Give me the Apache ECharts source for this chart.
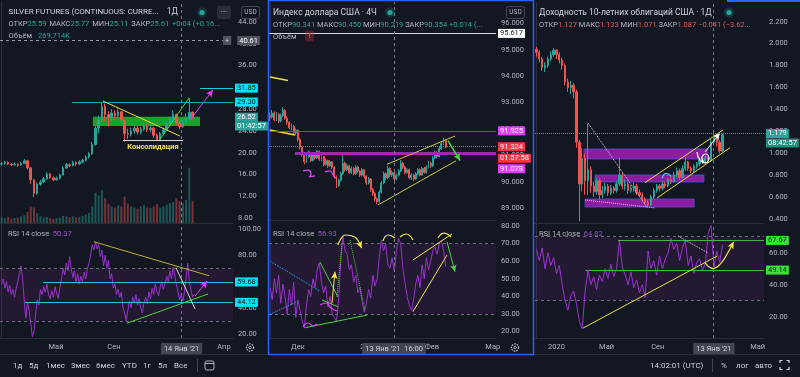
<!DOCTYPE html>
<html><head><meta charset="utf-8">
<script src="https://cdn.jsdelivr.net/npm/echarts@6/dist/echarts.min.js"></script>
<style>html,body{margin:0;padding:0;background:#131722;}#c{width:800px;height:377px;}</style>
</head><body><div id="c"></div>
<script>
const FONT = 'Roboto, "Noto Sans", sans-serif';
const BG = '#131722';
const UP = '#26a69a', DOWN = '#ef5350';
const AXIS_TXT = '#b2b5be';
const RSI_COLOR = '#9933cc';

// ---------- Panel 1: Silver futures (slots ~ weekly) ----------
const silverSlots = 72;
const silverCandles = [ // [open, close, low, high]
[17.9,18.0,17.6,18.3],[18.0,18.2,17.8,18.5],[18.2,17.9,17.7,18.4],[17.9,17.8,17.5,18.1],[17.8,17.9,17.6,18.2],
[17.9,17.7,17.4,18.0],[17.7,18.0,17.6,18.3],[18.0,18.5,17.9,18.8],[18.5,17.2,16.9,18.7],[17.2,15.0,14.3,17.4],
[15.0,12.5,11.8,15.2],[12.5,14.2,12.3,14.5],[14.2,14.6,13.9,15.0],[14.6,15.2,14.4,15.5],[15.2,16.1,15.0,16.4],
[16.1,15.4,15.2,16.3],[15.4,15.0,14.8,15.6],[15.0,15.3,14.9,15.6],[15.3,15.9,15.1,16.1],[15.9,17.2,15.8,17.5],
[17.2,17.8,17.0,18.1],[17.8,17.6,17.3,18.0],[17.6,18.2,17.5,18.5],[18.2,17.9,17.6,18.4],[17.9,18.3,17.7,18.6],
[18.3,18.6,18.0,18.9],[18.6,19.2,18.4,19.5],[19.2,19.8,18.9,20.1],[19.8,21.5,19.6,22.0],[21.5,24.5,21.3,25.0],
[24.5,26.0,23.5,26.8],[26.0,28.5,25.6,29.3],[28.5,27.0,25.8,29.0],[27.0,26.5,24.8,27.6],[26.5,27.3,25.9,28.0],
[27.3,26.8,26.0,27.8],[26.8,27.5,26.3,28.1],[27.5,26.0,25.5,27.7],[26.0,23.5,22.0,26.2],[23.5,23.4,22.5,24.4],
[23.4,24.0,23.0,24.6],[24.0,24.5,23.5,25.0],[24.5,23.8,23.3,24.9],[23.8,24.3,23.4,24.7],[24.3,25.0,24.0,25.4],
[25.0,24.2,23.8,25.3],[24.2,24.5,23.7,25.1],[24.5,23.2,22.7,24.7],[23.2,22.4,22.1,23.5],[22.4,23.5,22.2,23.8],
[23.5,24.2,23.2,24.6],[24.2,25.3,24.0,25.6],[25.3,26.3,24.8,26.6],[26.3,27.0,25.9,27.8],[27.0,25.4,25.1,27.2],
[25.4,24.8,24.3,25.8],[24.8,25.6,24.6,26.1],[25.6,26.3,25.3,27.2],[26.3,27.4,25.9,30.0],[27.4,26.52,26.2,27.6]
];
const silverVolume = [10,9,11,8,9,10,12,14,20,30, 28,18,12,10,11,9,8,9,10,13, 12,11,12,10,11,13,15,18,30,55,
  50,60,45,35,30,28,32,30,48,35, 30,28,26,30,32,28,27,30,34,28, 30,33,36,38,45,40,36,42,100,40];
const silverRsi = [ // two points per slot
58,62,55,60,52,57,50,54,48,55, 60,66,72,62,45,32,44,38,28,18, 22,35,46,42,54,50,56,52,58,50,
47,53,48,56,51,47,55,62,70,65, 74,68,79,70,63,68,60,66,58,64, 60,67,62,70,74,80,88,84,90,85,
88,79,84,72,80,70,76,62,66,55, 58,50,54,48,52,40,36,30,38,45, 40,48,44,50,42,47,40,36,44,48,
43,52,47,55,50,58,52,49,56,60, 54,58,64,60,68,62,71,65,58,52, 46,50,45,52,62,74,60,54,48,50.37];
const silverPriceTicks = [8,12,16,20,24,28,32,36,40,44];
const silverRsiTicks = [20,40,60,80,100];
const silverTimeLabels = [[16.8,'Май'],[34.7,'Сен'],[55.6,"14 Янв '21"],[68.7,'Апр']];
const silverCrossSlot = 55.4;

// ---------- Panel 2: US dollar index ----------
const dxySlots = 106;
const dxyCandles = [
[92.50,92.45,92.30,92.62],[92.45,92.60,92.38,92.72],[92.60,92.35,92.28,92.66],[92.35,92.55,92.30,92.64],[92.55,92.30,92.22,92.60],
[92.30,92.50,92.25,92.58],[92.50,92.70,92.45,92.82],[92.70,92.40,92.35,92.75],[92.40,92.25,92.15,92.48],[92.25,92.05,91.98,92.30],
[92.05,92.10,91.95,92.20],[92.10,91.85,91.78,92.15],[91.85,91.95,91.76,92.02],[91.95,91.60,91.52,91.98],[91.60,91.30,91.22,91.66],
[91.30,91.05,90.96,91.35],[91.05,90.75,90.66,91.10],[90.75,90.95,90.70,91.02],[90.95,91.10,90.88,91.18],[91.10,90.80,90.74,91.14],
[90.80,91.05,90.76,91.12],[91.05,90.90,90.84,91.10],[90.90,91.15,90.86,91.20],[91.15,90.85,90.78,91.18],[90.85,90.95,90.78,91.02],
[90.95,90.65,90.58,90.98],[90.65,90.80,90.60,90.88],[90.80,90.60,90.52,90.84],[90.60,90.75,90.55,90.82],[90.75,90.55,90.46,90.78],
[90.55,90.20,90.12,90.58],[90.20,89.85,89.76,90.24],[89.85,90.05,89.80,90.12],[90.05,90.30,90.00,90.38],[90.30,90.70,90.26,91.00],
[90.70,90.45,90.38,90.76],[90.45,90.60,90.40,90.68],[90.60,90.35,90.30,90.64],[90.35,90.50,90.30,90.58],[90.50,90.30,90.24,90.55],
[90.30,90.55,90.26,90.62],[90.55,90.40,90.34,90.60],[90.40,90.25,90.18,90.45],[90.25,90.45,90.20,90.52],[90.45,90.20,90.12,90.48],
[90.20,89.95,89.88,90.25],[89.95,90.10,89.90,90.18],[90.10,89.70,89.62,90.14],[89.70,89.55,89.46,89.76],[89.55,89.35,89.26,89.60],
[89.35,89.25,89.15,89.40],[89.25,89.60,89.20,89.66],[89.60,89.95,89.55,90.02],[89.95,90.30,89.90,90.38],[90.30,90.15,90.06,90.36],
[90.15,90.50,90.10,90.60],[90.50,90.25,90.18,90.55],[90.25,90.35,90.18,90.42],[90.35,90.10,90.02,90.40],[90.10,90.25,90.05,90.32],
[90.25,90.40,90.20,90.48],[90.40,90.70,90.36,90.82],[90.70,90.55,90.48,90.76],[90.55,90.35,90.28,90.60],[90.35,90.45,90.30,90.52],
[90.45,90.15,90.08,90.50],[90.15,90.25,90.06,90.32],[90.25,90.10,90.02,90.30],[90.10,90.30,90.06,90.36],[90.30,90.45,90.24,90.52],
[90.45,90.25,90.20,90.50],[90.25,90.50,90.22,90.56],[90.50,90.35,90.30,90.56],[90.35,90.55,90.30,90.62],[90.55,90.70,90.50,90.78],
[90.70,90.60,90.52,90.76],[90.60,90.90,90.56,90.96],[90.90,91.10,90.85,91.18],[91.10,90.95,90.88,91.16],[90.95,91.25,90.92,91.32],
[91.25,91.45,91.20,91.52],[91.45,91.55,91.38,91.66],[91.55,91.32,91.26,91.60]
];
const dxyRsi = [
45,38,50,42,52,36,47,40,30,44, 35,48,28,38,32,26,22,35,44,40, 50,45,55,59,48,42,46,34,40,30,
28,26,38,60,74,66,64,55,58,48, 52,42,45,37,31,36,44,39,52,46, 50,62,72,66,70,58,56,62,54,66,
73,70,56,48,40,35,32,38,47,52, 45,58,50,62,55,60,66,68,64,70, 72,66,57];
const dxyPriceTicks = [89,90,91,92,93,94,95,96];
const dxyRsiTicks = [20,30,40,50,60,70,80];
const dxyTimeLabels = [[13,'Дек'],[46,'2021'],[57.9,"13 Янв '21  16:00"],[75.6,'Фев'],[104,'Мар']];
const dxyCrossSlot = 57.9;

// ---------- Panel 3: US 10Y yield ----------
const yieldSlots = 80;
const yieldCandles = [
[1.95,1.92,1.88,1.97],[1.92,1.86,1.83,1.94],[1.86,1.78,1.75,1.88],[1.78,1.80,1.74,1.83],[1.80,1.86,1.78,1.88],
[1.86,1.90,1.84,1.93],[1.90,1.94,1.88,1.96],[1.94,1.90,1.86,1.95],[1.90,1.85,1.82,1.92],[1.85,1.80,1.76,1.87],
[1.80,1.65,1.62,1.82],[1.65,1.60,1.56,1.68],[1.60,1.62,1.54,1.66],[1.62,1.56,1.50,1.64],[1.56,1.10,1.05,1.58],
[1.10,0.72,0.38,1.12],[0.72,0.95,0.65,1.05],[0.95,0.75,0.62,1.00],[0.75,0.85,0.62,1.27],[0.85,0.70,0.64,0.88],
[0.70,0.65,0.60,0.74],[0.65,0.75,0.62,0.78],[0.75,0.62,0.58,0.77],[0.62,0.66,0.59,0.70],[0.66,0.70,0.63,0.73],
[0.70,0.64,0.61,0.72],[0.64,0.68,0.62,0.71],[0.68,0.66,0.63,0.70],[0.66,0.72,0.64,0.75],[0.72,0.80,0.70,0.96],
[0.80,0.70,0.67,0.82],[0.70,0.72,0.66,0.76],[0.72,0.66,0.63,0.74],[0.66,0.68,0.64,0.71],[0.68,0.70,0.65,0.73],
[0.70,0.64,0.62,0.72],[0.64,0.62,0.60,0.67],[0.62,0.58,0.56,0.64],[0.58,0.55,0.53,0.60],[0.55,0.53,0.51,0.57],
[0.53,0.60,0.52,0.62],[0.60,0.66,0.58,0.68],[0.66,0.70,0.64,0.72],[0.70,0.68,0.65,0.72],[0.68,0.72,0.66,0.75],
[0.72,0.70,0.68,0.74],[0.70,0.76,0.69,0.78],[0.76,0.74,0.72,0.79],[0.74,0.80,0.73,0.83],[0.80,0.84,0.78,0.87],
[0.84,0.78,0.76,0.86],[0.78,0.86,0.77,0.89],[0.86,0.92,0.84,0.96],[0.92,0.86,0.84,0.93],[0.86,0.84,0.82,0.88],
[0.84,0.88,0.82,0.90],[0.88,0.90,0.86,0.92],[0.90,0.94,0.88,0.96],[0.94,0.92,0.90,0.96],[0.92,0.96,0.90,0.98],
[0.96,0.93,0.91,0.98],[0.93,1.10,0.92,1.13],[1.10,1.15,1.07,1.19],[1.15,1.10,1.06,1.17],[1.10,1.02,1.00,1.12],
[1.02,1.17,1.01,1.18]
];
const yieldRsi = [
62,55,63,50,60,52,57,47,52,40, 30,24,33,36,28,17,12.5,36,49,40, 45,37,46,42,50,44,53,45,50,68,
51,46,40,48,38,43,35,40,32,61, 50,55,46,58,50,56,60,69,62,66, 55,63,68,52,58,47,54,56,49,53,
72,77,51,61,54,64.82];
const yieldPriceTicks = [0.4,0.6,0.8,1.0,1.2,1.4,1.6,1.8,2.0,2.2];
const yieldRsiTicks = [20,40,60];
const yieldTimeLabels = [[7,'2020'],[24.5,'Май'],[42.4,'Сен'],[62,"13 Янв '21"],[77.3,'Май']];
const yieldCrossSlot = 61.6;

// ---------- helpers ----------
function tag(text, bg, fg, extra) {
  return Object.assign({show:true, position:'end', formatter:text, backgroundColor:bg, color:fg,
    padding:[1,2,0,2], fontSize:7.5, lineHeight:8, fontFamily:FONT, distance:2}, extra || {});
}
function seg(p, color, o) {
  o = o || {};
  return [
    {coord:[p[0],p[1]], symbol:'none', lineStyle:{color:color, width:o.w || 1, type:o.type || 'solid'}, label:o.label || {show:false}},
    {coord:[p[2],p[3]], symbol:o.arrow ? 'arrow' : 'none', symbolSize:o.arrow ? [5,7] : 1}
  ];
}
function hseg(v, x1, x2, color, o) { return seg([x1,v,x2,v], color, o); }
function vline(x) { return {xAxis:x, lineStyle:{color:'#787b86', type:[3,3], width:1}}; }
function mline(data) {
  return {silent:true, animation:false, symbol:['none','none'], label:{show:false}, data:data};
}
function curve(xi, yi, pts, color, w) {
  return {type:'line', xAxisIndex:xi, yAxisIndex:yi, data:pts, smooth:0.5, showSymbol:false, silent:true,
    lineStyle:{color:color, width:w || 1.2}, z:6, animation:false};
}
function band(xi, yi, slots) {
  return {type:'line', xAxisIndex:xi, yAxisIndex:yi, data:[], z:1, silent:true,
    markArea:{silent:true, animation:false, data:[[{coord:[-0.5,70], itemStyle:{color:'rgba(156,39,176,0.12)'}},{coord:[slots-0.5,30]}]]},
    markLine:mline([hseg(70,-0.5,slots-0.5,'#6a6d78',{type:[3,3]}), hseg(30,-0.5,slots-0.5,'#6a6d78',{type:[3,3]})])};
}
function overlay(xi, yi, lines, areas, points) {
  const s = {type:'line', xAxisIndex:xi, yAxisIndex:yi, data:[], z:5, silent:true, clip:false, markLine:mline(lines)};
  if (areas) s.markArea = {silent:true, animation:false, data:areas};
  if (points) s.markPoint = {silent:true, animation:false, data:points};
  return s;
}
function rect(x1, y1, x2, y2, style) { return [{coord:[x1,y1], itemStyle:style}, {coord:[x2,y2]}]; }
function candles(xi, yi, arr, w) {
  return {type:'candlestick', xAxisIndex:xi, yAxisIndex:yi, barWidth:w, z:2, animation:false, silent:true,
    encode:{x:0, y:[1,2,3,4]},
    data:arr.map((c,i)=>[i,c[0],c[1],c[2],c[3]]),
    itemStyle:{color:UP, color0:DOWN, borderColor:UP, borderColor0:DOWN, borderWidth:1}};
}
function rsiLine(xi, yi, arr, step) {
  return {type:'line', xAxisIndex:xi, yAxisIndex:yi, data:arr.map((v,i)=>[i*step, v]), showSymbol:false,
    lineStyle:{color:RSI_COLOR, width:1}, z:3, animation:false, silent:true};
}
function xPrice(gi, slots) {
  return {type:'value', gridIndex:gi, min:-0.5, max:slots-0.5,
    axisLine:{show:true, onZero:false, lineStyle:{color:'#2a2e39'}}, axisTick:{show:false}, axisLabel:{show:false}, splitLine:{show:false}};
}
function xTime(gi, slots, labels) {
  return {type:'value', gridIndex:gi, min:-0.5, max:slots-0.5,
    axisLine:{show:true, onZero:false, lineStyle:{color:'#2a2e39'}}, axisTick:{show:false}, splitLine:{show:false},
    axisLabel:{show:true, customValues:labels.map(l=>l[0]), margin:5, color:AXIS_TXT, fontSize:7.5, fontFamily:FONT,
      formatter:function(v){ const l = labels.find(x=>Math.abs(x[0]-v)<1e-6); if(!l) return ''; return l[1].indexOf("'21")>=0 ? '{hl|'+l[1]+'}' : l[1]; },
      rich:{hl:{backgroundColor:'#434651', color:'#d1d4dc', padding:[2,3,2,3], fontSize:7.5, fontFamily:FONT}}}};
}
function yAx(gi, min, max, ticks, dec, show) {
  return {type:'value', gridIndex:gi, position:'right', min:min, max:max, show:show !== false,
    axisLine:{show:true, lineStyle:{color:'#2a2e39'}}, axisTick:{show:false}, splitLine:{show:false},
    axisLabel:{show:true, customValues:ticks, formatter:v=>v.toFixed(dec), color:AXIS_TXT, fontSize:7.5, fontFamily:FONT, margin:5}};
}

// ---------- text styles ----------
const RICH = {
  t:{color:'#d1d4dc', fontSize:8, fontFamily:FONT, lineHeight:11.5},
  k:{color:'#d1d4dc', fontSize:8.5, fontFamily:FONT, lineHeight:11.5, padding:[0,0,0,8]},
  l:{color:'#b2b5be', fontSize:7.5, fontFamily:FONT, lineHeight:11.5},
  u:{color:UP, fontSize:7.5, fontFamily:FONT, lineHeight:11.5},
  d:{color:DOWN, fontSize:7.5, fontFamily:FONT, lineHeight:11.5},
  r:{color:'#9c4fc9', fontSize:7.5, fontFamily:FONT, lineHeight:11.5},
  y:{color:'#f5e642', fontSize:7.5, fontFamily:FONT, fontWeight:'bold', lineHeight:10}
};

// ---------- annotations (data coordinates) ----------
const CY = '#26c6da', CYBOX = '#00e5ff', YEL = '#e8e337', GRN = '#4cd43c', MAG = '#e040fb', WHT = '#d8d8d8';
const silverHeader = '{t|SILVER FUTURES (CONTINUOUS: CURRE...}{k|1Д}\n' +
  '{l|ОТКР}{u|25.59} {l|МАКС}{u|25.77} {l|МИН}{u|25.11} {l|ЗАКР}{u|25.61} {u|+0.04 (+0.16...}\n' +
  '{l|Объём}  {u|269.714K}';
const silverHeaderPoint = [{coord:[-0.5, 43.63], symbol:'rect', symbolSize:1, itemStyle:{color:'rgba(0,0,0,0)'},
  label:{show:true, position:'right', distance:8, formatter:silverHeader, rich:RICH, fontFamily:FONT, color:'#d1d4dc'}}];
const silverPriceLines = [
  hseg(40.61,-0.5,71.5,'#9598a1',{type:[3,3], label:{show:true, position:'end', distance:2, offset:[-12,0], formatter:'{p|+}  {v|40.61}',
    rich:{p:{backgroundColor:'#50535e', color:'#d1d4dc', padding:[1,2,0,2], fontSize:7.5, fontFamily:FONT},
          v:{backgroundColor:'#50535e', color:'#ffffff', padding:[1,2,0,2], fontSize:7.5, fontFamily:FONT}}}}),
  hseg(31.85,61.3,71.5,CY,{label:tag('31.85',CYBOX,'#0b0e14')}),
  hseg(29.30,21.7,71.5,'#1e9fb0',{label:tag('29.30',CYBOX,'#0b0e14')}),
  seg([31.3,29.49,55.1,23.06],YEL),
  seg([48.6,22.14,57.9,30.04],GRN),
  hseg(22.33,37.5,56.05,WHT,{label:{show:true, position:'insideMiddleBottom', distance:2, formatter:'{y|Консолидация}', rich:RICH}}),
  seg([58.2,26.0,65.3,31.51],MAG,{arrow:true}),
  hseg(26.52,-0.5,71.5,'rgba(0,0,0,0)',{label:tag('26.52',UP,'#ffffff')}),
  hseg(24.90,-0.5,71.5,'rgba(0,0,0,0)',{label:tag('01:42:57',UP,'#ffffff')}),
  vline(silverCrossSlot)
];
const silverPriceAreas = [rect(28.2,26.6,61.3,24.9,{color:'#1ec72e', opacity:0.78})];
const silverRsiLines = [
  hseg(59.68,12.8,71.5,CY,{label:tag('59.68',CYBOX,'#0b0e14')}),
  hseg(44.12,7.2,71.5,CY,{label:tag('44.12',CYBOX,'#0b0e14')}),
  seg([28.5,90.3,64.1,64.4],'#bfae30'),
  seg([38.7,28.2,63.8,50.5],GRN),
  seg([53.9,70.5,59.8,39.0],WHT),
  seg([59.8,49,63.5,60.4],MAG,{arrow:true}),
  vline(silverCrossSlot)
];

const dxyPriceLines = [
  hseg(95.617,-0.5,105.5,'#d1d4dc',{label:tag('95.617','#ffffff','#131722')}),
  seg([-0.03,93.97,8.37,93.83],YEL,{w:1.5}),
  seg([-0.03,91.96,11.64,91.77],YEL,{w:1.5}),
  hseg(91.925,-0.5,105.5,'#d500f9',{label:tag('91.925',MAG,'#ffffff')}),
  hseg(91.324,-0.5,105.5,'#ef5350',{type:'dotted', label:tag('91.324','#f23645','#ffffff')}),
  hseg(90.89,-0.5,105.5,'rgba(0,0,0,0)',{label:tag('01:57:58','#f23645','#ffffff')}),
  hseg(91.078,11.6,105.5,'#9c27b0',{w:3}),
  hseg(90.49,-0.5,105.5,'rgba(0,0,0,0)',{label:tag('91.078',MAG,'#ffffff')}),
  seg([54.6,90.66,86.35,91.73],'#c9c63a'),
  seg([50.4,89.12,86.8,90.79],'#c9c63a'),
  seg([83.1,91.55,88.7,90.80],GRN,{w:1.5, arrow:true}),
  vline(dxyCrossSlot)
];
const dxySquiggle1 = [[15.38,90.41],[17.71,90.44],[19.1,90.29],[18.18,90.18],[20.98,90.22]];
const dxySquiggle2 = [[25.65,90.37],[27.98,90.41],[29.39,90.26],[30.79,90.14]];
const dxyRsiLines = [
  seg([-0.03,60,23.3,43],'#29b6f6',{type:'dotted'}),
  seg([-0.03,29.8,12.6,37],'#29b6f6',{type:'dotted'}),
  seg([16.3,22.2,45.3,29.4],GRN),
  seg([23.3,59.5,31.7,39.7],GRN),
  seg([24.25,38.0,31.7,34.1],GRN),
  seg([28.9,36.1,30.3,54.0],'#f5e642',{arrow:true}),
  seg([31.25,39.8,33.6,70.2],GRN,{type:'dotted'}),
  seg([37.3,72.0,44.3,32.3],GRN,{type:'dotted'}),
  seg([41.9,69.8,42.7,67.4],'#f5e642',{arrow:true}),
  seg([66.7,60.7,85.0,75.5],'#f5e642'),
  seg([66.7,31.3,82.6,63.5],'#f5e642'),
  seg([82.6,71.1,86.35,54.0],GRN,{arrow:true}),
  vline(dxyCrossSlot)
];
const dxyRsiArc = [[31.7,69.2],[35.4,74.9],[39.3,73.9],[42.4,68.2]];
const dxyRsiArcA = [[52.7,71.5],[55.1,74.9],[58.3,73.2]];
const dxyRsiArcB = [[60.7,73.75],[63.5,75.45],[66.7,72.05]];
const dxyRsiArcC = [[78.4,73.2],[81.2,76.0],[84.5,73.75]];
const dxyRsiSquig1 = [[23.3,35.1],[26.1,36.25],[28.4,33.4],[31.25,31.7]];
const dxyRsiSquig2 = [[15.4,22.6],[17.7,24.9],[20.0,23.2],[21.9,24.3]];

const RECT3 = {color:'#a31fb5', opacity:0.85, borderColor:'#4b4bd6', borderWidth:1};
const yieldPriceAreas = [rect(16.6,1.0385,59.9,0.9473,RECT3), rect(20.5,0.8013,58.5,0.7374,RECT3), rect(17.0,0.582,55.1,0.509,RECT3)];
const yieldPriceLines = [
  seg([18.0,1.276,38.6,0.5075],'#d1d4dc',{type:'dotted'}),
  seg([17.0,0.573,41.4,0.501],'#d1d4dc',{type:'dotted'}),
  seg([37.9,0.731,65.2,1.212],'#e6e12f'),
  seg([42.1,0.591,67.6,1.050],'#e6e12f'),
  seg([58.9,1.011,64.1,1.185],'#ffffff',{arrow:true}),
  hseg(1.179,-0.5,79.5,UP,{type:'dotted', label:tag('1.179',UP,'#ffffff')}),
  hseg(1.0933,-0.5,79.5,'rgba(0,0,0,0)',{label:tag('08:42:57','#1f8f80','#ffffff')}),
  vline(yieldCrossSlot)
];
const yieldSquiggle = [[56.1,1.011],[57.1,0.938],[58.9,0.911],[60.3,0.956],[59.2,0.993],[57.8,0.956],[58.5,0.911]];
const yieldCyanArc = [[43.9,0.771],[45.3,0.816],[47.0,0.789]];
const yieldRsiLines = [
  hseg(67.67,28.5,79.5,'#4caf50',{label:tag('67.67','#36e336','#131722')}),
  hseg(49.14,17.0,79.5,'#4caf50',{label:tag('49.14','#36e336','#131722')}),
  seg([16.3,12.9,63.1,57.9],'#e6e12f'),
  seg([49.5,70.4,60.0,59.8],'#d1d4dc',{type:'dotted'}),
  seg([68.2,64.4,68.9,66.8],'#f5e642',{arrow:true}),
  vline(yieldCrossSlot)
];
const yieldRsiCurve = [[58.9,53.75],[60.3,51.1],[61.7,50.1],[64.2,52.9],[66.6,59.2],[68.7,66.1]];

// ---------- other header / toolbar texts (title components) ----------
function ttl(x, cy, text, size, color, extra) {
  const s = size || 8;
  return Object.assign({text:text, left:x, top:cy - s*0.62, padding:0, itemGap:0, z:10,
    textStyle:{color:color || '#d1d4dc', fontSize:s, fontFamily:FONT, fontWeight:'normal', lineHeight:Math.round(s*1.25), rich:RICH}}, extra || {});
}
const titles = [
  ttl(8,233.5,'{l|RSI 14 close}  {r|50.37}',7.5),
  ttl(273,12.5,'Индекс доллара США · 4Ч',8.5),
  ttl(273,24,'{l|ОТКР}{u|90.341} {l|МАКС}{u|90.450} {l|МИН}{u|90.219} {l|ЗАКР}{u|90.354} {u|+0.014 (...}',7.5),
  ttl(273,36,'{l|Объём}',7.5),
  ttl(273,233.5,'{l|RSI 14 close}  {r|56.93}',7.5),
  ttl(539,12.5,'Доходность 10-летних облигаций США · 1Д',8.5),
  ttl(539,24,'{l|ОТКР}{d|1.127} {l|МАКС}{d|1.133} {l|МИН}{d|1.071} {l|ЗАКР}{d|1.087} {d|−0.041 (−3.62...}',7.5),
  ttl(539,233.5,'{l|RSI 14 close}  {r|64.82}',7.5),
  ttl(13,365.5,'1д',8), ttl(29,365.5,'5д',8), ttl(46,365.5,'1мес',8), ttl(71,365.5,'3мес',8), ttl(96,365.5,'6мес',8),
  ttl(122,365.5,'YTD',8), ttl(143,365.5,'1г',8), ttl(158,365.5,'5л',8), ttl(174,365.5,'Все',8),
  ttl(650,365.5,'14:02:01 (UTC)',8), ttl(721,365.5,'%',8), ttl(736,365.5,'лог',8), ttl(755,365.5,'авто',8)
];

// ---------- chrome shapes ----------
let gid = 0;
function nid() { gid += 1; return 'g' + gid; }
function dot(x, y) {
  return [{type:'circle', id:nid(), z:100, silent:true, shape:{cx:x, cy:y, r:5}, style:{fill:'rgba(38,166,154,0.22)'}},
          {type:'circle', id:nid(), z:101, silent:true, shape:{cx:x, cy:y, r:2.6}, style:{fill:'#26a69a'}}];
}
function box(x, y, w, h, stroke, fill) {
  return {type:'rect', id:nid(), z:100, silent:true, shape:{x:x, y:y, width:w, height:h, r:2}, style:{fill:fill || 'none', stroke:stroke || 'none', lineWidth:1}};
}
function gear(x, y) {
  return [{type:'circle', id:nid(), z:100, silent:true, shape:{cx:x, cy:y, r:3.6}, style:{fill:'none', stroke:'#b2b5be', lineWidth:1.2, lineDash:[1.6,1]}},
          {type:'circle', id:nid(), z:100, silent:true, shape:{cx:x, cy:y, r:1.3}, style:{fill:'none', stroke:'#b2b5be', lineWidth:1}}];
}
function lineG(x1, y1, x2, y2, color, w) {
  return {type:'line', id:nid(), z:99, silent:true, shape:{x1:x1, y1:y1, x2:x2, y2:y2}, style:{stroke:color, lineWidth:w || 1}};
}
function poly(points, color) {
  return {type:'polyline', id:nid(), z:100, silent:true, shape:{points:points}, style:{stroke:color, lineWidth:1.2, fill:'none'}};
}
function gtext(x, y, text, fill, size, weight) {
  return {type:'text', id:nid(), x:x, y:y, z:103, silent:true, style:{text:text, fill:fill, fontSize:size, fontFamily:FONT, fontWeight:weight || 'normal', align:'center', verticalAlign:'middle'}};
}
const graphics = [].concat(
  dot(202,12.5), dot(390,12.5), dot(729,12.5),
  [box(217,6,14,13,null,'#2a2e39'), gtext(224,11.5,'···','#d1d4dc',8)],
  [box(241.5,6.5,18,12,'#434651'), gtext(250.5,12.5,'USD','#b2b5be',6.5)],
  [box(506.5,6.5,18,12,'#434651'), gtext(515.5,12.5,'USD','#b2b5be',6.5)],
  [box(305,30.5,9,11,null,'rgba(242,54,69,0.28)'), gtext(309.5,36,'!','#f23645',8,'bold')],
  gear(250,347.5), gear(515,347.5),
  [lineG(0,354.5,800,354.5,'#2a2e39',1)],
  [{type:'rect', id:nid(), z:98, silent:true, shape:{x:727, y:0, width:73, height:2}, style:{fill:'#2962ff'}}],
  [{type:'rect', id:nid(), z:102, silent:true, shape:{x:268.5, y:0.5, width:265, height:354}, style:{fill:'none', stroke:'#2962ff', lineWidth:1.5}}],
  [lineG(197.5,359,197.5,372,'#434651',1), lineG(712.5,359,712.5,372,'#434651',1)],
  [box(205,361,9,9,'#b2b5be'), lineG(205,363.5,214,363.5,'#b2b5be',1)],
  [poly([[780,363],[780,360.5],[782.5,360.5]],'#d1d4dc'), poly([[786.5,360.5],[789,360.5],[789,363]],'#d1d4dc'),
   poly([[780,367],[780,369.5],[782.5,369.5]],'#d1d4dc'), poly([[786.5,369.5],[789,369.5],[789,367]],'#d1d4dc')]
);

// ---------- option ----------
const grids = [
  {left:0, top:2, width:233, height:221},
  {left:0, top:224, width:233, height:114},
  {left:269, top:2, width:227, height:218},
  {left:269, top:221, width:227, height:117},
  {left:535, top:2, width:229, height:221},
  {left:535, top:224, width:229, height:114}
].map(g=>Object.assign({containLabel:false, outerBoundsMode:'none', show:false}, g));

const volumeData = silverVolume.map((v,i)=>({value:[i,v], itemStyle:{color: silverCandles[i][1] >= silverCandles[i][0] ? 'rgba(38,166,154,0.45)' : 'rgba(239,83,80,0.45)'}}));

const option = {
  backgroundColor: BG,
  animation: false,
  textStyle: {fontFamily: FONT},
  title: titles,
  grid: grids,
  xAxis: [
    xPrice(0, silverSlots), xTime(1, silverSlots, silverTimeLabels),
    xPrice(2, dxySlots), xTime(3, dxySlots, dxyTimeLabels),
    xPrice(4, yieldSlots), xTime(5, yieldSlots, yieldTimeLabels)
  ],
  yAxis: [
    yAx(0, 7.079, 47.674, silverPriceTicks, 2),
    Object.assign(yAx(0, 0, 400, [], 0, false), {show:false}),
    yAx(1, 16.952, 103.81, silverRsiTicks, 2),
    yAx(2, 88.549, 96.807, dxyPriceTicks, 3),
    yAx(3, 16.364, 82.841, dxyRsiTicks, 2),
    yAx(4, 0.3633, 2.3797, yieldPriceTicks, 3),
    yAx(5, 6.69, 77.94, yieldRsiTicks, 2)
  ],
  series: [
    {type:'bar', xAxisIndex:0, yAxisIndex:1, data:volumeData, barWidth:2, z:1, silent:true, animation:false},
    candles(0, 0, silverCandles, 2),
    overlay(0, 0, silverPriceLines, silverPriceAreas, silverHeaderPoint),
    band(1, 2, silverSlots),
    rsiLine(1, 2, silverRsi, 0.5),
    overlay(1, 2, silverRsiLines),

    candles(2, 3, dxyCandles, 1.4),
    overlay(2, 3, dxyPriceLines),
    curve(2, 3, dxySquiggle1, MAG),
    curve(2, 3, dxySquiggle2, MAG),
    band(3, 4, dxySlots),
    rsiLine(3, 4, dxyRsi, 1),
    overlay(3, 4, dxyRsiLines),
    curve(3, 4, dxyRsiArc, '#f5e642'),
    curve(3, 4, dxyRsiArcA, '#f5e642'),
    curve(3, 4, dxyRsiArcB, '#f5e642'),
    curve(3, 4, dxyRsiArcC, '#f5e642'),
    curve(3, 4, dxyRsiSquig1, MAG),
    curve(3, 4, dxyRsiSquig2, MAG),

    candles(4, 5, yieldCandles, 1.8),
    overlay(4, 5, yieldPriceLines, yieldPriceAreas),
    curve(4, 5, yieldSquiggle, '#ffffff'),
    curve(4, 5, yieldCyanArc, '#4fc3f7'),
    band(5, 6, yieldSlots),
    rsiLine(5, 6, yieldRsi, 1),
    overlay(5, 6, yieldRsiLines),
    curve(5, 6, yieldRsiCurve, '#f5e642')
  ],
  graphic: {elements: graphics}
};

const chart = echarts.init(document.getElementById('c'), null, {renderer:'canvas'});
chart.setOption(option);
</script></body></html>
